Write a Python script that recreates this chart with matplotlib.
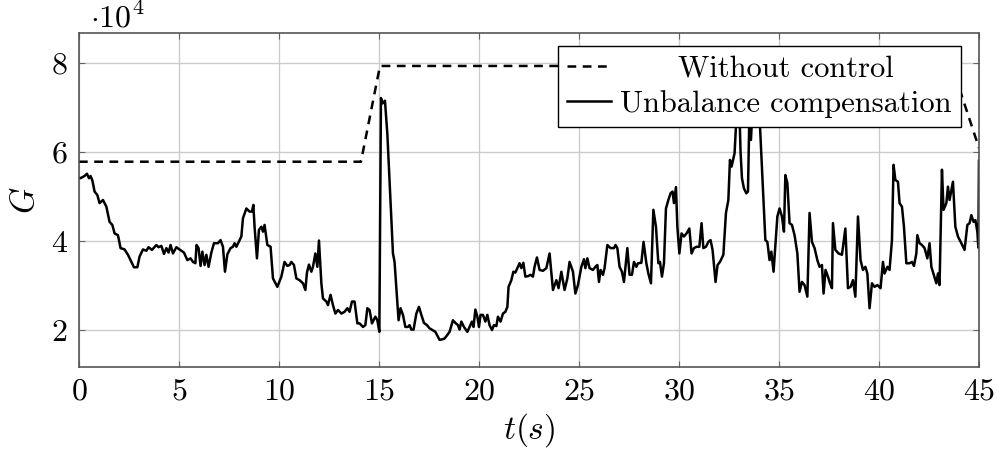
import matplotlib
matplotlib.use('Agg')
import matplotlib.pyplot as plt

plt.rcParams['font.family'] = 'serif'
plt.rcParams['font.serif'] = ['cmr10']
plt.rcParams['mathtext.fontset'] = 'cm'
plt.rcParams['axes.formatter.use_mathtext'] = True
plt.rcParams['font.size'] = 23

# without control (G in 1e4)
t_ref = [0.0, 14.1, 15.05, 43.65, 45.0]
g_ref = [5.78, 5.78, 7.93, 7.93, 6.09]

# unbalance compensation (G in 1e4)
t_ub = [0.0, 0.08, 0.28, 0.4, 0.5, 0.58, 0.67, 0.78, 0.92, 1.03, 1.2, 1.37, 1.53, 1.67, 1.78, 1.95,
        2.08, 2.28, 2.45, 2.62, 2.75, 2.92, 3.03, 3.2, 3.37, 3.48, 3.65, 3.87, 3.98, 4.12, 4.25, 4.37,
        4.48, 4.58, 4.7, 4.87, 5.03, 5.25, 5.42, 5.58, 5.7, 5.82, 5.88, 5.98, 6.08, 6.17, 6.28, 6.37,
        6.48, 6.62, 6.75, 6.95, 7.08, 7.2, 7.3, 7.42, 7.58, 7.7, 7.78, 7.87, 8.03, 8.12, 8.2, 8.37,
        8.53, 8.65, 8.72, 8.78, 8.9, 9.0, 9.12, 9.2, 9.28, 9.42, 9.58, 9.7, 9.92, 10.12, 10.28, 10.42,
        10.53, 10.62, 10.75, 10.87, 11.03, 11.2, 11.32, 11.4, 11.5, 11.62, 11.7, 11.82, 11.92, 12.0,
        12.12, 12.2, 12.37, 12.45, 12.58, 12.7, 12.82, 12.95, 13.12, 13.28, 13.42, 13.53, 13.65, 13.78,
        13.92, 14.03, 14.2, 14.32, 14.42, 14.53, 14.65, 14.82, 14.92, 15.02, 15.1, 15.18, 15.3, 15.42,
        15.7, 15.78, 15.98, 16.08, 16.2, 16.32, 16.45, 16.53, 16.62, 16.73, 16.87, 17.0, 17.12, 17.25,
        17.4, 17.53, 17.67, 17.82, 17.95, 18.03, 18.15, 18.28, 18.42, 18.53, 18.7, 18.82, 18.95, 19.03,
        19.12, 19.25, 19.42, 19.53, 19.65, 19.73, 19.82, 19.92, 20.0, 20.08, 20.2, 20.32, 20.42, 20.53,
        20.65, 20.75, 20.87, 20.95, 21.08, 21.2, 21.32, 21.42, 21.48, 21.62, 21.72, 21.82, 21.92, 22.03,
        22.12, 22.22, 22.32, 22.45, 22.58, 22.7, 22.78, 22.9, 23.03, 23.2, 23.37, 23.53, 23.7, 23.87,
        23.98, 24.12, 24.28, 24.42, 24.53, 24.7, 24.82, 24.95, 25.12, 25.25, 25.32, 25.42, 25.53, 25.7,
        25.82, 25.92, 26.0, 26.08, 26.2, 26.28, 26.42, 26.58, 26.75, 26.83, 26.92, 27.03, 27.15, 27.25,
        27.42, 27.53, 27.65, 27.75, 27.87, 27.95, 28.12, 28.23, 28.37, 28.47, 28.6, 28.72, 28.85, 28.97,
        29.05, 29.15, 29.25, 29.35, 29.47, 29.58, 29.68, 29.75, 29.85, 29.92, 30.02, 30.13, 30.25, 30.38,
        30.52, 30.63, 30.75, 30.88, 31.02, 31.13, 31.22, 31.35, 31.47, 31.58, 31.68, 31.83, 31.93, 32.05,
        32.22, 32.35, 32.47, 32.55, 32.63, 32.78, 32.9, 33.0, 33.08, 33.15, 33.25, 33.37, 33.45, 33.52,
        33.6, 33.7, 33.85, 34.05, 34.32, 34.42, 34.53, 34.62, 34.73, 34.92, 35.03, 35.15, 35.25, 35.32,
        35.42, 35.53, 35.65, 35.78, 35.92, 36.03, 36.15, 36.28, 36.42, 36.53, 36.65, 36.78, 36.92, 37.03,
        37.15, 37.23, 37.33, 37.45, 37.55, 37.65, 37.7, 37.82, 37.98, 38.15, 38.32, 38.45, 38.58, 38.7,
        38.82, 38.95, 39.08, 39.2, 39.32, 39.42, 39.53, 39.65, 39.78, 39.92, 40.08, 40.2, 40.28, 40.42,
        40.53, 40.65, 40.73, 40.82, 40.95, 41.03, 41.15, 41.25, 41.37, 41.53, 41.65, 41.75, 41.87, 41.92,
        42.03, 42.15, 42.28, 42.42, 42.53, 42.62, 42.75, 42.87, 42.95, 43.03, 43.15, 43.23, 43.37, 43.45,
        43.53, 43.7, 43.82, 43.95, 44.12, 44.28, 44.42, 44.53, 44.62, 44.73, 44.82, 44.92, 44.97, 45.0]
g_ub = [5.42, 5.41, 5.46, 5.51, 5.41, 5.46, 5.36, 5.11, 5.03, 4.85, 4.92, 4.77, 4.43, 4.36, 4.17, 4.13,
        3.84, 3.81, 3.69, 3.53, 3.41, 3.41, 3.65, 3.81, 3.78, 3.86, 3.80, 3.91, 3.86, 3.89, 3.71, 3.84,
        3.74, 3.91, 3.72, 3.86, 3.81, 3.74, 3.57, 3.61, 3.53, 3.50, 3.91, 3.84, 3.44, 3.76, 3.46, 3.69,
        3.42, 3.74, 3.95, 3.95, 4.02, 3.87, 3.31, 3.70, 3.84, 3.87, 3.95, 3.87, 4.02, 4.10, 4.51, 4.73,
        4.66, 4.66, 4.81, 4.32, 3.61, 4.25, 4.32, 4.21, 4.36, 3.91, 3.87, 3.16, 2.97, 3.20, 3.53, 3.44,
        3.46, 3.53, 3.46, 3.16, 3.12, 3.05, 2.90, 3.29, 3.47, 3.31, 3.42, 3.72, 3.42, 4.01,
        3.05, 2.71, 2.64, 2.56, 2.79, 2.56, 2.37, 2.45, 2.37, 2.41, 2.49, 2.41, 2.64, 2.64,
        2.15, 2.15, 2.07, 2.11, 2.49, 2.45, 2.15, 2.30, 2.22, 1.96, 7.21, 7.09, 7.15, 6.40,
        3.72, 3.53, 2.22, 2.49, 2.34, 2.07, 2.07, 2.11, 2.01, 2.01, 2.37, 2.52, 2.34, 2.16,
        2.11, 2.04, 2.00, 1.96, 1.85, 1.78, 1.79, 1.81, 1.89, 1.96, 2.22, 2.16, 2.11, 2.01,
        2.19, 2.07, 1.96, 2.07, 2.19, 2.07, 2.46, 2.30, 2.07, 2.34, 2.34, 2.19, 2.34, 2.11,
        2.00, 2.11, 2.09, 2.30, 2.19, 2.37, 2.41, 2.52, 2.97, 3.12, 3.31, 3.29, 3.39, 3.50,
        3.39, 3.51, 3.20, 3.21, 3.24, 3.20, 3.42, 3.63, 3.35, 3.33, 3.39, 3.72, 2.90, 3.12,
        2.94, 3.31, 2.90, 3.16, 3.53, 3.31, 2.82, 3.01, 3.42, 3.59, 3.39, 3.61, 3.39, 3.35,
        3.42, 3.46, 3.08, 3.35, 3.24, 3.39, 3.91, 3.84, 3.84, 3.91, 3.84, 3.42, 3.31, 3.08,
        3.84, 3.24, 3.24, 3.53, 3.42, 3.50, 3.51, 3.98, 3.50, 3.27, 3.05, 4.70, 4.32, 3.50,
        3.53, 3.20, 3.50, 4.73, 4.92, 5.07, 5.11, 4.85, 5.21, 4.32, 3.72, 4.17, 4.10, 4.17,
        4.28, 3.72, 3.84, 3.87, 3.87, 4.40, 3.84, 3.87, 3.98, 4.02, 3.80, 3.08, 3.46, 3.53,
        3.69, 4.63, 4.92, 5.82, 5.67, 5.97, 7.00, 7.30, 6.00, 5.41, 5.18, 5.07, 5.11, 6.80,
        6.27, 7.20, 7.60, 6.60, 4.02, 3.98, 3.57, 3.76, 3.31, 4.55, 4.73, 4.55, 4.21, 5.48,
        5.30, 4.40, 4.36, 4.13, 3.72, 2.86, 3.08, 3.01, 2.75, 4.63, 3.98, 3.84, 3.57, 3.42,
        3.46, 2.82, 3.35, 3.20, 3.05, 2.94, 4.40, 3.80, 3.72, 3.69, 4.28, 2.94, 2.97, 3.12,
        2.75, 4.55, 3.57, 3.35, 3.42, 3.27, 2.49, 3.05, 2.97, 3.01, 2.94, 3.53, 3.27, 3.42,
        3.35, 4.02, 5.71, 5.37, 5.33, 4.85, 4.77, 4.32, 3.50, 3.50, 3.53, 3.44, 3.72, 4.13,
        3.95, 3.91, 3.84, 3.61, 3.95, 3.42, 3.23, 3.05, 3.27, 3.01, 5.60, 4.70, 4.85, 5.22,
        4.92, 5.33, 4.32, 4.10, 3.95, 3.80, 4.36, 4.40, 4.58, 4.43, 4.47, 4.21, 3.85, 5.80]

x_ticks = [0, 5, 10, 15, 20, 25, 30, 35, 40, 45]
y_ticks = [2, 4, 6, 8]

fig = plt.figure(figsize=(9.97, 4.54), dpi=100)
ax = fig.add_axes([0.0792, 0.1916, 0.9027, 0.7357])

ax.plot(t_ref, g_ref, color='black', lw=1.8, dashes=(3.5, 2.6), label='Without control')
ax.plot(t_ub, g_ub, color='black', lw=1.8, label='Unbalance compensation')

ax.set_xlim(0, 45)
ax.set_ylim(1.17, 8.67)
ax.set_xticks(x_ticks)
ax.set_yticks(y_ticks)
ax.grid(True, color='#cccccc', lw=1.0)
ax.set_axisbelow(True)
ax.tick_params(direction='in', length=4, width=0.8, color='#666666',
               top=True, right=True, pad=8)
for sp in ax.spines.values():
    sp.set_color('#555555')
    sp.set_linewidth(1.2)

ax.set_xlabel('$t(s)$', fontsize=24, labelpad=4)
ax.set_ylabel('$G$', fontsize=24, labelpad=8)
ax.text(0.012, 1.018, r'$\cdot 10^4$', transform=ax.transAxes, fontsize=23,
        ha='left', va='baseline')

leg = ax.legend(loc='upper right', bbox_to_anchor=(0.98, 0.962), frameon=True,
                fancybox=False, framealpha=1, edgecolor='black', handlelength=1.45,
                handletextpad=0.3, borderpad=0.3, labelspacing=0.25, borderaxespad=0,
                fontsize=22)
leg.get_frame().set_linewidth(1.0)

# centre the legend labels like pgfplots does
fig.canvas.draw()
texts = leg.get_texts()
widths = [tx.get_window_extent().width for tx in texts]
widest = max(widths)
for tx, w in zip(texts, widths):
    tx.set_position(((widest - w) / 2, 0))

fig.savefig('out.png', dpi=100)
